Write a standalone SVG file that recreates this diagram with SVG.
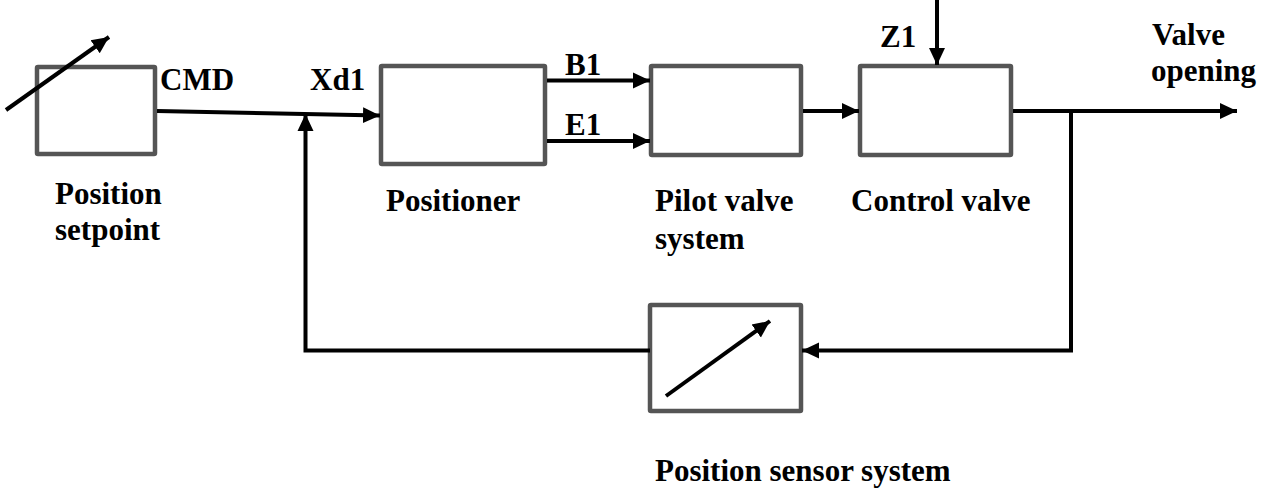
<svg xmlns="http://www.w3.org/2000/svg" width="1273" height="491" viewBox="0 0 1273 491">
<defs>
<style>
.box{fill:#fff;stroke:#555;stroke-width:4.5}
.ln{fill:none;stroke:#000;stroke-width:4}
.t{font-weight:bold;font-size:31px;fill:#000}
</style>
<marker id="ah" markerUnits="userSpaceOnUse" markerWidth="18" markerHeight="18" viewBox="0 0 18 18" refX="17" refY="9" orient="auto">
<path d="M0,1 L17,9 L0,17 Z" fill="#000"/>
</marker>
</defs>
<rect width="1273" height="491" fill="#fff"/>
<g font-family="'Liberation Serif', 'DejaVu Serif', serif">
<g id="setpoint">
<rect class="box" x="37" y="67" width="118" height="87" rx="1"/>
<line class="ln" x1="6" y1="110" x2="109" y2="37" marker-end="url(#ah)"/>
<text class="t" x="55" y="204">Position</text>
<text class="t" x="55" y="240">setpoint</text>
</g>
<g id="positioner">
<rect class="box" x="381" y="66" width="164" height="98" rx="1"/>
<text class="t" x="386" y="211">Positioner</text>
</g>
<g id="pilot">
<rect class="box" x="651" y="66" width="150" height="89" rx="1"/>
<text class="t" x="655" y="211">Pilot valve</text>
<text class="t" x="655" y="249">system</text>
</g>
<g id="control">
<rect class="box" x="860" y="66" width="151" height="89" rx="1"/>
<text class="t" x="851" y="211">Control valve</text>
</g>
<g id="sensor">
<rect class="box" x="650" y="305" width="151" height="106" rx="1"/>
<line class="ln" x1="666" y1="396" x2="770" y2="321" marker-end="url(#ah)"/>
<text class="t" x="655" y="481">Position sensor system</text>
</g>
<g id="connectors">
<line class="ln" x1="157" y1="111" x2="380" y2="115.5" marker-end="url(#ah)"/>
<polyline class="ln" points="650,350.5 305.5,350.5 305.5,114" marker-end="url(#ah)"/>
<line class="ln" x1="547" y1="80.5" x2="650" y2="80.5" marker-end="url(#ah)"/>
<line class="ln" x1="547" y1="141" x2="650" y2="141" marker-end="url(#ah)"/>
<line class="ln" x1="803" y1="111" x2="859" y2="111" marker-end="url(#ah)"/>
<line class="ln" x1="1013" y1="111" x2="1237" y2="111" marker-end="url(#ah)"/>
<line class="ln" x1="937" y1="0" x2="937" y2="65" marker-end="url(#ah)"/>
<polyline class="ln" points="1071,111 1071,350.5 802,350.5" marker-end="url(#ah)"/>
</g>
<g id="labels">
<text class="t" x="160" y="90">CMD</text>
<text class="t" x="310" y="90">Xd1</text>
<text class="t" x="565" y="75">B1</text>
<text class="t" x="565" y="135">E1</text>
<text class="t" x="880" y="47">Z1</text>
<text class="t" x="1152" y="45">Valve</text>
<text class="t" x="1151" y="81">opening</text>
</g>
</g>
</svg>
